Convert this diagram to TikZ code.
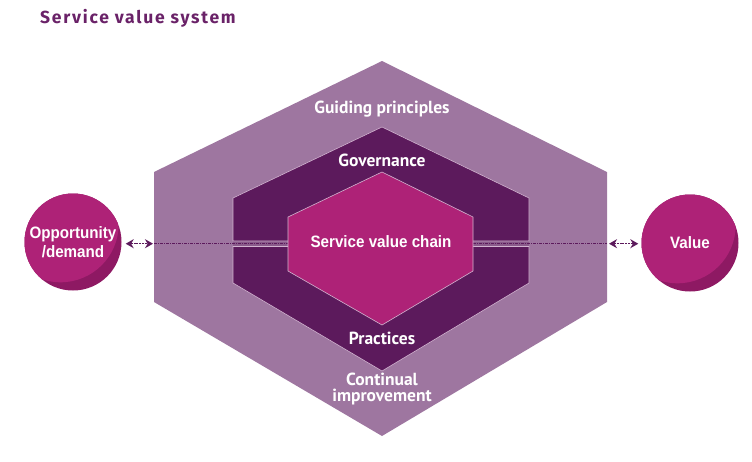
\documentclass[tikz,border=0pt]{standalone}
\usepackage{fontspec}
\setmainfont{PT Sans}
\newfontfamily\titlefont[LetterSpace=10]{Fira Sans}
\newfontfamily\hexfont{PT Sans}
\newfontfamily\circfont[FakeStretch=0.92]{Liberation Sans}
\usetikzlibrary{arrows.meta}
\definecolor{outerC}{HTML}{9E76A0}
\definecolor{midC}{HTML}{5C1A5C}
\definecolor{magL}{HTML}{AE2277}
\definecolor{magD}{HTML}{8E1963}
\definecolor{titleC}{HTML}{6A2268}
\definecolor{edgeC}{HTML}{D2B4D0}
\tikzset{
  hexlabel/.style={text=white, font=\hexfont\bfseries\fontsize{17.5}{17.5}\selectfont, align=center, inner sep=0pt},
  circlabel/.style={text=white, font=\circfont\bfseries\fontsize{16.5}{18.5}\selectfont, align=center, inner sep=0pt},
  ball/.style={circle, minimum size=97pt, inner sep=0pt, fill=magD,
    path picture={\fill[magL] ([xshift=-12.5pt,yshift=17.9pt]path picture bounding box.center) circle (58.2pt);}},
  hexedge/.style={draw=edgeC, line width=0.6pt},
  flow/.style={midC, line width=1pt, dash pattern=on 3pt off 1pt on 1pt off 1pt},
  arr/.style={midC, line width=1.2pt, dash pattern=on 2pt off 0.8pt, {Stealth[length=8pt,width=9pt]}-{Stealth[length=8pt,width=9pt]}}
}
\begin{document}
\begin{tikzpicture}[x=1pt,y=-1pt]
\useasboundingbox (0,0) rectangle (752,461);
% outer hexagon
\fill[outerC] (382,61) -- (607,172) -- (607,302) -- (382,436) -- (154,302) -- (154,172) -- cycle;
% middle hexagon halves
\fill[outerC!70!midC] (233,241) rectangle (529,246.5);
\filldraw[fill=midC, hexedge] (233,241) -- (233,198) -- (382,127) -- (529,198) -- (529,241) -- cycle;
\filldraw[fill=midC, hexedge] (233,246.5) -- (529,246.5) -- (529,283) -- (382,371) -- (233,283) -- cycle;
% flow line
\coordinate (oL) at (154,243.7);
\coordinate (oR) at (607,243.7);
\coordinate (iL) at (288,243.7);
\coordinate (iR) at (473,243.7);
\draw[flow] (oL) -- (iL);
\draw[flow] (iR) -- (oR);
% inner hexagon
\filldraw[fill=magL, hexedge] (382,172) -- (473,217) -- (473,271) -- (382,325) -- (288,271) -- (288,217) -- cycle;
% labels
\node[hexlabel] (gp) at (382,109) {Guiding principles};
\node[hexlabel] (gov) at (382,160) {Governance};
\node[circlabel] (svc) at (381,242) {Service value chain};
\node[hexlabel] (pra) at (382,338) {Practices};
\node[hexlabel, font=\hexfont\bfseries\fontsize{17.5}{15.5}\selectfont] (ci) at (382,389) {Continual\\improvement};
% circles
\node[ball] (opp) at (73,242) {};
\node[circlabel] at (opp.center) {Opportunity\\/demand};
\node[ball] (val) at (690,243) {};
\node[circlabel] at (val.center) {Value};
% arrows
\draw[arr, shorten <=4pt, shorten >=1pt] (opp.east |- oL) -- (oL);
\draw[arr, shorten <=2pt, shorten >=3pt] (oR) -- (val.west |- oR);
% title
\node[anchor=west, text=titleC, font=\titlefont\bfseries\fontsize{17.5}{17.5}\selectfont, inner sep=0pt] (title) at (40,18) {Service value system};
\end{tikzpicture}
\end{document}
